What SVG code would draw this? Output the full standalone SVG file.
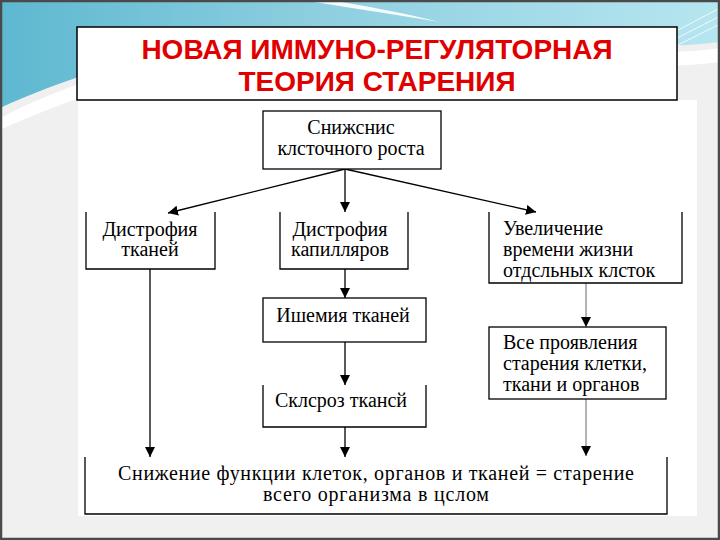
<svg xmlns="http://www.w3.org/2000/svg" width="720" height="540" viewBox="0 0 720 540">
<defs>
<linearGradient id="sky" x1="0" y1="0" x2="1" y2="0">
<stop offset="0" stop-color="#5db8d0"/>
<stop offset="0.45" stop-color="#8fcfe0"/>
<stop offset="1" stop-color="#b6e6f0"/>
</linearGradient>
<marker id="ah" viewBox="0 0 10 10" refX="10" refY="5" markerWidth="10" markerHeight="10" markerUnits="userSpaceOnUse" orient="auto">
<path d="M0,0 L10,5 L0,10 Z" fill="#000"/>
</marker>
<style>
.box{fill:#fff;stroke:#000;stroke-width:1.3}
.open{fill:none;stroke:#000;stroke-width:1.3}
.t{font-family:"Liberation Serif","Times New Roman",serif;font-size:20px;fill:#000}
.c{text-anchor:middle}
.title{font-family:"Liberation Sans",Arial,sans-serif;font-weight:bold;font-size:28px;fill:#e00000;text-anchor:middle}
.ln{stroke:#000;stroke-width:1.3;fill:none;marker-end:url(#ah)}
.gl{stroke:#b4b4b4;stroke-width:2;fill:none;marker-end:url(#ah)}
</style>
</defs>
<!-- background -->
<rect x="0" y="0" width="720" height="540" fill="#f0f0f0"/>
<rect x="78" y="100" width="619" height="416" fill="#ffffff"/>
<path d="M0,0 H720 V42 C640,52 560,40 470,34 C380,28 300,30 220,42 C140,55 60,80 0,108 Z" fill="url(#sky)"/>
<path d="M0,118 C70,82 150,58 240,46 C330,34 430,34 520,42 C600,50 670,56 720,48 V62 C660,70 590,66 510,58 C420,50 320,50 240,60 C150,72 70,98 0,130 Z" fill="#ffffff"/>
<path d="M300,0 C340,6 390,14 440,22 C400,12 360,5 330,0 Z" fill="#ffffff" opacity="0.9"/>
<path d="M640,50 L720,8 M650,52 L720,16 M660,54 L720,24" stroke="#ffffff" stroke-width="1" opacity="0.8"/>
<rect x="1" y="1" width="718" height="538" fill="none" stroke="#4a4a4a" stroke-width="2.5"/>

<g id="title">
<rect x="77" y="27" width="600" height="73" fill="#fff" stroke="#000" stroke-width="1.5"/>
<text class="title" x="377" y="59">НОВАЯ ИММУНО-РЕГУЛЯТОРНАЯ</text>
<text class="title" x="377" y="91">ТЕОРИЯ СТАРЕНИЯ</text>
</g>

<g id="connectors">
<line class="ln" x1="345" y1="169" x2="168" y2="213"/>
<line class="ln" x1="345" y1="169" x2="345" y2="212"/>
<line class="ln" x1="345" y1="169" x2="536" y2="212"/>
<line class="ln" x1="150" y1="269" x2="150" y2="457"/>
<line class="ln" x1="345" y1="269" x2="345" y2="298"/>
<line class="ln" x1="345" y1="342" x2="345" y2="385"/>
<line class="ln" x1="345" y1="427" x2="345" y2="457"/>
<line class="gl" x1="586" y1="283" x2="586" y2="327"/>
<line class="gl" x1="586" y1="399" x2="586" y2="456"/>
</g>

<g id="n-snizhenie">
<rect class="box" x="263" y="111" width="178" height="58"/>
<text class="t c" x="351" y="134">Снижснис</text>
<text class="t c" x="351" y="155">клсточного роста</text>
</g>

<g id="n-distr-tkanei">
<path class="open" d="M86,212 V269 H215 V212"/>
<text class="t c" x="150" y="236">Дистрофия</text>
<text class="t c" x="150" y="256">тканей</text>
</g>

<g id="n-distr-kapil">
<path class="open" d="M280,212 V269 H408 V212"/>
<text class="t c" x="340" y="236">Дистрофия</text>
<text class="t c" x="340" y="256">капилляров</text>
</g>

<g id="n-uvelichenie">
<path class="open" d="M489,212 V283 H682 V212"/>
<text class="t" x="503" y="235">Увеличение</text>
<text class="t" x="503" y="256">времени жизни</text>
<text class="t" x="503" y="277">отдсльных клсток</text>
</g>

<g id="n-ishemia">
<rect class="box" x="263" y="298" width="163" height="44"/>
<text class="t c" x="343" y="322">Ишемия тканей</text>
</g>

<g id="n-proyavlenia">
<rect class="box" x="489" y="327" width="177" height="72"/>
<text class="t" x="503" y="349">Все проявления</text>
<text class="t" x="503" y="370">старения клетки,</text>
<text class="t" x="503" y="391">ткани и органов</text>
</g>

<g id="n-skleroz">
<path class="open" d="M263,385 V427 H426 V385"/>
<text class="t c" x="341" y="407">Склсроз ткансй</text>
</g>

<g id="n-itog">
<path class="open" d="M85,457 V514 H667 V457"/>
<text class="t c" x="376" y="480" textLength="516" lengthAdjust="spacing">Снижение функции клеток, органов и тканей = старение</text>
<text class="t c" x="376" y="501" textLength="226" lengthAdjust="spacing">всего организма в цслом</text>
</g>
</svg>
